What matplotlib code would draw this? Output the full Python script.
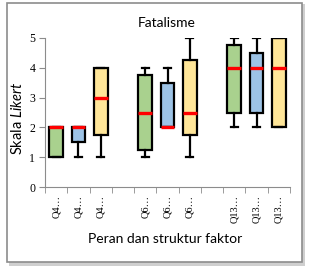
import matplotlib
matplotlib.use("Agg")
import matplotlib.pyplot as plt
from matplotlib.patches import Rectangle

plt.rcParams["mathtext.fontset"] = "custom"
plt.rcParams["mathtext.rm"] = "Lato"
plt.rcParams["mathtext.it"] = "Lato:italic"

categories = ["Q4…", "Q4…", "Q4…", "", "Q6…", "Q6…", "Q6…", "", "Q13…", "Q13…", "Q13…"]
positions = [0, 1, 2, 4, 5, 6, 8, 9, 10]
whislo = [1, 1, 1, 1, 2, 1, 2, 2, 2]
q1 = [1, 1.5, 1.75, 1.25, 2, 1.75, 2.5, 2.5, 2]
med = [2, 2, 3, 2.5, 2, 2.5, 4, 4, 4]
q3 = [2, 2, 4, 3.75, 3.5, 4.25, 4.75, 4.5, 5]
whishi = [2, 2, 4, 4, 4, 5, 5, 5, 5]
colors = ["#A9D18E", "#9DC3E6", "#FFE699"] * 3

fig = plt.figure(figsize=(3.1, 2.7), dpi=100)
# frame with shadow
fig.patches.append(Rectangle((9/310, 1 - 266/270), 296/310, 262/270, transform=fig.transFigure,
                             facecolor="#b0b0b0", edgecolor="none", alpha=0.6, zorder=-2))
fig.patches.append(Rectangle((7/310, 1 - 262/270), 295/310, 259/270, transform=fig.transFigure,
                             facecolor="white", edgecolor="#8c8c8c", linewidth=1.2, zorder=-1))

ax = fig.add_axes([45/310, 83/270, 245/310, 149/270])
ax.set_zorder(2)
ax.set_facecolor("none")
stats = []
for i in range(len(positions)):
    stats.append(dict(whislo=whislo[i], q1=q1[i], med=med[i], q3=q3[i], whishi=whishi[i], fliers=[]))
bp = ax.bxp(stats, positions=positions, widths=0.62, patch_artist=True, showfliers=False,
            boxprops=dict(linewidth=1.6, edgecolor="black"),
            whiskerprops=dict(linewidth=1.6, color="black"),
            capprops=dict(linewidth=1.6, color="black"),
            medianprops=dict(linewidth=2.4, color="#FF0000"),
            capwidths=0.32)
for p, c in zip(bp["boxes"], colors):
    p.set_facecolor(c)
for m in bp["medians"]:
    m.set_zorder(5)

ax.set_xlim(-0.5, 10.5)
ax.set_ylim(0, 5)
ax.set_yticks([0, 1, 2, 3, 4, 5])
ax.set_xticks(range(len(categories)))
ax.set_xticklabels(categories, rotation=90, fontfamily="Liberation Serif", fontsize=7.5)
ax.set_xticks([i - 0.5 for i in range(len(categories) + 1)], minor=True)
ax.tick_params(axis="x", which="major", length=0, pad=6)
ax.tick_params(axis="x", which="minor", length=4, color="#8c8c8c", direction="out")
ax.tick_params(axis="y", length=4, color="#8c8c8c", labelsize=8.5, pad=3)
for lab in ax.get_yticklabels():
    lab.set_fontfamily("Liberation Serif")
for s in ["top", "right"]:
    ax.spines[s].set_visible(False)
for s in ["left", "bottom"]:
    ax.spines[s].set_color("#8c8c8c")

fig.text(167/310, 1 - 23/270, "Fatalisme", ha="center", va="center", fontsize=10, fontfamily="Lato")
fig.text(165/310, 1 - 239/270, "Peran dan struktur faktor", ha="center", va="center", fontsize=10, fontfamily="Lato")
fig.text(18/310, 1 - 118/270, r"Skala $\it{Likert}$", ha="center", va="center", rotation=90,
         fontsize=10.5, fontfamily="Lato")

fig.savefig("out.png", dpi=100)
